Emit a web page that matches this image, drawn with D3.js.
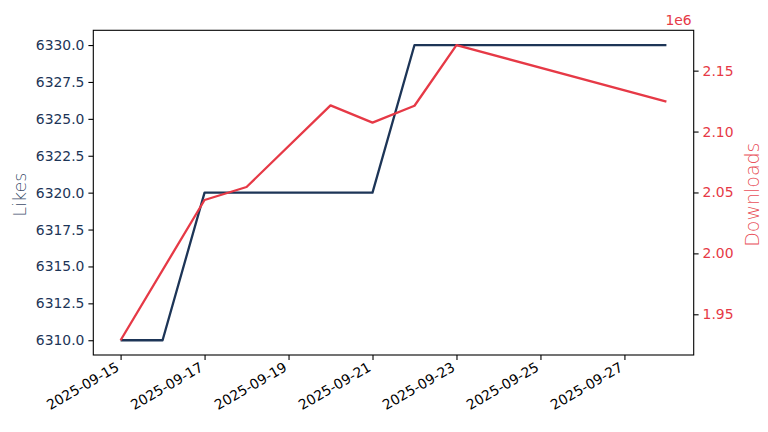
<!DOCTYPE html>
<html>
<head>
<meta charset="utf-8">
<script src="https://cdn.jsdelivr.net/npm/d3@7"></script>
<style>
  body { margin: 0; background: #fff; }
  svg { display: block; font-family: "DejaVu Sans", sans-serif; }
  svg text { font-family: "DejaVu Sans", sans-serif; }
</style>
</head>
<body>
<svg width="768" height="432"></svg>
<script>
// data
const likeDates = ["2025-09-15", "2025-09-16", "2025-09-17", "2025-09-18", "2025-09-19",
  "2025-09-20", "2025-09-21", "2025-09-22", "2025-09-23", "2025-09-24", "2025-09-25",
  "2025-09-26", "2025-09-27", "2025-09-28"];
const likes = [6310, 6310, 6320, 6320, 6320, 6320, 6320, 6330, 6330, 6330, 6330, 6330, 6330, 6330];

const downloadDates = ["2025-09-15", "2025-09-17", "2025-09-18", "2025-09-20",
  "2025-09-21", "2025-09-22", "2025-09-23", "2025-09-28"];
const downloads = [1928700, 2043800, 2054500, 2121500, 2107300, 2121200, 2171000, 2124500];

const xTickDates = ["2025-09-15", "2025-09-17", "2025-09-19", "2025-09-21",
  "2025-09-23", "2025-09-25", "2025-09-27"];
const likeTicks = [6310, 6312.5, 6315, 6317.5, 6320, 6322.5, 6325, 6327.5, 6330];
const downloadTicks = [1950000, 2000000, 2050000, 2100000, 2150000];

const navy = "#1d3557";
const red = "#e63946";

const svg = d3.select("svg");
const plotLeft = 93.3, plotRight = 693.7, plotTop = 30.3, plotBottom = 355;
const parse = d3.utcParse("%Y-%m-%d");

// matplotlib style 5% margins
function pad(ext, f) {
  const m = (ext[1] - ext[0]) * f;
  return [ext[0] - m, ext[1] + m];
}

const allDates = likeDates.map(parse);
const xExt = d3.extent(allDates).map(Number);
const x = d3.scaleUtc()
  .domain(pad(xExt, 0.05).map(v => new Date(v)))
  .range([plotLeft, plotRight]);

const yL = d3.scaleLinear().domain(pad(d3.extent(likes), 0.05)).range([plotBottom, plotTop]);
const yR = d3.scaleLinear().domain(pad(d3.extent(downloads), 0.05)).range([plotBottom, plotTop]);

// axes
const xAxis = svg.append("g")
  .attr("transform", `translate(0,${plotBottom})`)
  .call(d3.axisBottom(x)
    .tickValues(xTickDates.map(parse))
    .tickFormat(d3.utcFormat("%Y-%m-%d"))
    .tickSize(4.9).tickPadding(3));
xAxis.attr("font-family", null).attr("font-size", null);
xAxis.select(".domain").remove();
xAxis.selectAll(".tick line").attr("stroke", "#000").attr("stroke-width", 1.1);
xAxis.selectAll(".tick text")
  .attr("fill", "#000")
  .style("font-size", "13.9px")
  .attr("text-anchor", "end")
  .attr("dy", null)
  .attr("y", null)
  .attr("transform", "translate(-1,15) rotate(-30)");

const lAxis = svg.append("g")
  .attr("transform", `translate(${plotLeft},0)`)
  .call(d3.axisLeft(yL).tickValues(likeTicks).tickFormat(d3.format(".1f"))
    .tickSize(4.9).tickPadding(4));
lAxis.attr("font-family", null).attr("font-size", null);
lAxis.select(".domain").remove();
lAxis.selectAll(".tick line").attr("stroke", "#000").attr("stroke-width", 1.1);
lAxis.selectAll(".tick text").attr("fill", navy).style("font-size", "13.9px");

const rAxis = svg.append("g")
  .attr("transform", `translate(${plotRight},0)`)
  .call(d3.axisRight(yR).tickValues(downloadTicks).tickFormat(d => d3.format(".2f")(d / 1e6))
    .tickSize(4.9).tickPadding(4));
rAxis.attr("font-family", null).attr("font-size", null);
rAxis.select(".domain").remove();
rAxis.selectAll(".tick line").attr("stroke", "#000").attr("stroke-width", 1.1);
rAxis.selectAll(".tick text").attr("fill", red).style("font-size", "13.9px");

// lines
const likeLine = d3.line()
  .x((d, i) => x(parse(likeDates[i])))
  .y(d => yL(d));
svg.append("path")
  .datum(likes)
  .attr("d", likeLine)
  .attr("fill", "none")
  .attr("stroke", navy)
  .attr("stroke-width", 2.3)
  .attr("stroke-linejoin", "round");

const dlLine = d3.line()
  .x((d, i) => x(parse(downloadDates[i])))
  .y(d => yR(d));
svg.append("path")
  .datum(downloads)
  .attr("d", dlLine)
  .attr("fill", "none")
  .attr("stroke", red)
  .attr("stroke-width", 2.3)
  .attr("stroke-linejoin", "round");

// frame
svg.append("rect")
  .attr("x", plotLeft).attr("y", plotTop)
  .attr("width", plotRight - plotLeft).attr("height", plotBottom - plotTop)
  .attr("fill", "none").attr("stroke", "#000").attr("stroke-width", 1.1);

// labels
svg.append("text")
  .attr("transform", `translate(26,${(plotTop + plotBottom) / 2 + 2}) rotate(-90)`)
  .attr("text-anchor", "middle")
  .style("font-size", "17.5px").style("font-weight", 200)
  .attr("fill", navy).attr("fill-opacity", 0.9)
  .text("Likes");

svg.append("text")
  .attr("transform", `translate(759,${(plotTop + plotBottom) / 2 + 2}) rotate(-90)`)
  .attr("text-anchor", "middle")
  .style("font-size", "19px").style("font-weight", 200)
  .attr("fill", red).attr("fill-opacity", 0.9)
  .text("Downloads");

svg.append("text")
  .attr("x", plotRight - 2).attr("y", 25)
  .attr("text-anchor", "end")
  .style("font-size", "13.9px")
  .attr("fill", red)
  .text("1e6");
</script>
</body>
</html>
